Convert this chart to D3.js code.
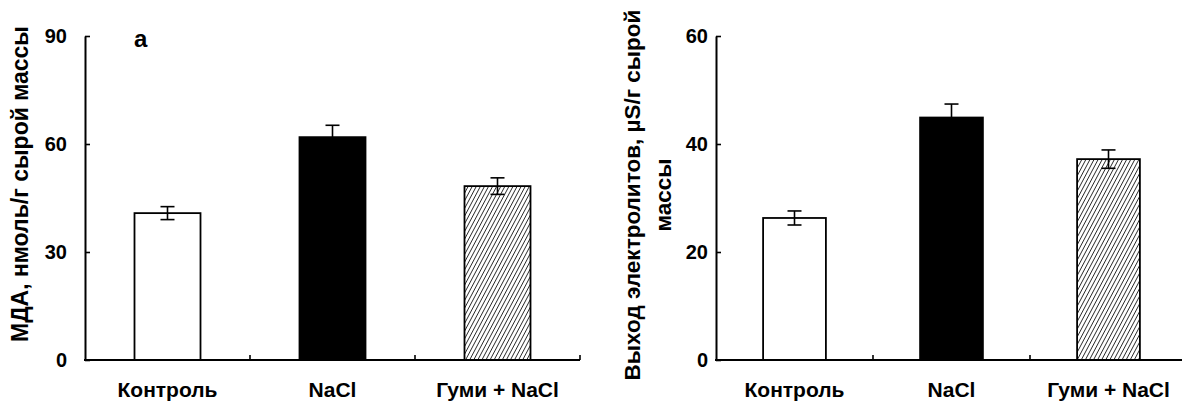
<!DOCTYPE html>
<html>
<head>
<meta charset="utf-8">
<script src="https://cdn.jsdelivr.net/npm/d3@7"></script>
<style>
  body { margin: 0; background: #fff; }
  text { font-family: "Liberation Sans", Arial, sans-serif; font-weight: bold; fill: #000; }
</style>
</head>
<body>
<script>
// data
var categories = ['Контроль', 'NaCl', 'Гуми + NaCl'];
var mdaValues = [40.8, 61.9, 48.3];
var mdaErrors = [1.8, 3.3, 2.3];
var mdaTicks = [0, 30, 60, 90];
var elValues = [26.3, 44.9, 37.2];
var elErrors = [1.3, 2.5, 1.7];
var elTicks = [0, 20, 40, 60];
var fills = ['white', 'black', 'url(#hatch)'];

var w = 1182, h = 401;
var svg = d3.select('body').append('svg')
  .attr('width', w)
  .attr('height', h);

// diagonal hatch for the third bar
var pat = svg.append('defs').append('pattern')
  .attr('id', 'hatch')
  .attr('patternUnits', 'userSpaceOnUse')
  .attr('width', 3.6)
  .attr('height', 3.6)
  .attr('patternTransform', 'rotate(28)');
pat.append('rect').attr('width', 3.6).attr('height', 3.6).attr('fill', 'white');
pat.append('line')
  .attr('x1', 0).attr('y1', 0).attr('x2', 0).attr('y2', 3.6)
  .attr('stroke', 'black').attr('stroke-width', 1.5);

function drawPanel(opt) {
  var g = svg.append('g');
  var x = d3.scaleBand()
    .domain(categories)
    .range([opt.x0, opt.x1])
    .paddingInner(0.6)
    .paddingOuter(0.3);
  var y = d3.scaleLinear()
    .domain([0, opt.max])
    .range([360, 36]);

  //bars
  g.selectAll('rect.bar')
    .data(opt.values)
    .join('rect')
    .attr('class', 'bar')
    .attr('x', function(d, i) { return x(categories[i]); })
    .attr('y', function(d) { return y(d); })
    .attr('width', x.bandwidth())
    .attr('height', function(d) { return y(0) - y(d); })
    .attr('fill', function(d, i) { return fills[i]; })
    .attr('stroke', 'black')
    .attr('stroke-width', 1.8);

  //error bars (the lower half of the black bar is hidden in it)
  var cap = 7;
  var eb = g.selectAll('g.err')
    .data(opt.values)
    .join('g')
    .attr('class', 'err')
    .attr('transform', function(d, i) {
      return 'translate(' + (x(categories[i]) + x.bandwidth() / 2) + ',0)';
    });
  eb.append('line')
    .attr('y1', function(d, i) { return y(d + opt.errors[i]); })
    .attr('y2', function(d, i) { return i == 1 ? y(d) : y(d - opt.errors[i]); })
    .attr('stroke', 'black')
    .attr('stroke-width', 1.6);
  eb.append('line')
    .attr('x1', -cap).attr('x2', cap)
    .attr('y1', function(d, i) { return y(d + opt.errors[i]); })
    .attr('y2', function(d, i) { return y(d + opt.errors[i]); })
    .attr('stroke', 'black')
    .attr('stroke-width', 1.6);
  eb.filter(function(d, i) { return i != 1; })
    .append('line')
    .attr('x1', -cap).attr('x2', cap)
    .attr('y1', function(d) { return y(d - opt.errors[opt.values.indexOf(d)]); })
    .attr('y2', function(d) { return y(d - opt.errors[opt.values.indexOf(d)]); })
    .attr('stroke', 'black')
    .attr('stroke-width', 1.6);

  //y axis, ticks point inward
  var yAxis = g.append('g')
    .attr('transform', 'translate(' + opt.x0 + ',0)')
    .call(d3.axisRight(y).tickValues(opt.ticks).tickSize(5).tickSizeOuter(0).tickFormat(''));
  yAxis.select('.domain').attr('stroke-width', 2);
  yAxis.selectAll('.tick line').attr('stroke-width', 1.6);
  g.selectAll('text.ytick')
    .data(opt.ticks)
    .join('text')
    .attr('class', 'ytick')
    .attr('x', opt.x0 - opt.labelGap)
    .attr('y', function(d) { return y(d); })
    .attr('dy', '0.36em')
    .attr('text-anchor', 'end')
    .style('font-size', '20px')
    .text(function(d) { return d; });

  //x axis
  var step = x.step();
  var sep = d3.range(1, categories.length + 1).map(function(i) { return opt.x0 + step * i; });
  g.append('line')
    .attr('x1', opt.x0 - 1).attr('x2', opt.x1)
    .attr('y1', y(0)).attr('y2', y(0))
    .attr('stroke', 'black').attr('stroke-width', 2);
  g.selectAll('line.sep')
    .data(sep)
    .join('line')
    .attr('class', 'sep')
    .attr('x1', function(d) { return d; }).attr('x2', function(d) { return d; })
    .attr('y1', y(0)).attr('y2', y(0) - 5)
    .attr('stroke', 'black').attr('stroke-width', 1.6);
  g.selectAll('text.xlab')
    .data(categories)
    .join('text')
    .attr('class', 'xlab')
    .attr('x', function(d) { return x(d) + x.bandwidth() / 2; })
    .attr('y', 397)
    .attr('text-anchor', 'middle')
    .style('font-size', '21px')
    .text(function(d) { return d; });

  //y label
  var lab = g.append('text')
    .attr('transform', 'translate(' + opt.labX + ',' + opt.labY + ') rotate(-90)')
    .attr('text-anchor', 'middle')
    .style('font-size', opt.labSize);
  opt.label.forEach(function(t, i) {
    lab.append('tspan').attr('x', 0).attr('dy', i == 0 ? 0 : 31).text(t);
  });
  return g;
}

drawPanel({
  x0: 85, x1: 580, max: 90, values: mdaValues, errors: mdaErrors, ticks: mdaTicks,
  labelGap: 18, label: ['МДА, нмоль/г сырой массы'], labX: 28, labY: 184, labSize: '23px'
});
svg.append('text')
  .attr('x', 134).attr('y', 47)
  .style('font-size', '24px')
  .text('a');

drawPanel({
  x0: 716, x1: 1187, max: 60, values: elValues, errors: elErrors, ticks: elTicks,
  labelGap: 8, label: ['Выход электролитов, µS/г сырой', 'массы'], labX: 640, labY: 195, labSize: '22.5px'
});
</script>
</body>
</html>
